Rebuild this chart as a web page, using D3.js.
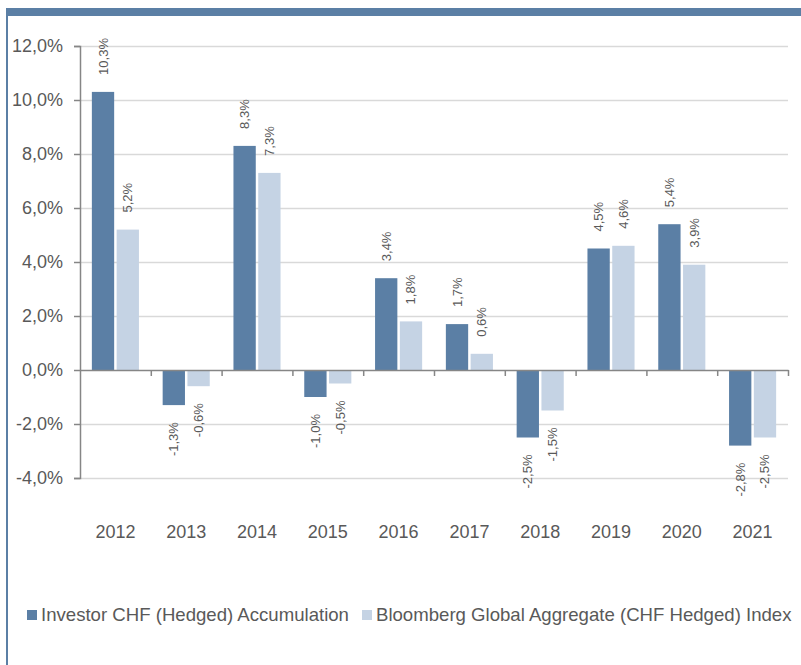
<!DOCTYPE html>
<meta charset="utf-8">
<script src="https://d3js.org/d3.v7.min.js"></script>
<style>
  body { margin: 0; background: #fff; }
  text { font-family: "Liberation Sans", Arial, sans-serif; fill: #595959; }
</style>
<div id="chart"></div>
<script>
// data
var years = ["2012", "2013", "2014", "2015", "2016", "2017", "2018", "2019", "2020", "2021"];
var fundValues = [10.3, -1.3, 8.3, -1.0, 3.4, 1.7, -2.5, 4.5, 5.4, -2.8];
var indexValues = [5.2, -0.6, 7.3, -0.5, 1.8, 0.6, -1.5, 4.6, 3.9, -2.5];
var seriesNames = ["Investor CHF (Hedged) Accumulation", "Bloomberg Global Aggregate (CHF Hedged) Index"];
var yTicks = [-4, -2, 0, 2, 4, 6, 8, 10, 12];

var colors = ["#5b7fa5", "#c5d3e4"];
var width = 801, height = 665;
var plot = {left: 80, right: 788, top: 46, bottom: 478};

var svg = d3.select("#chart").append("svg")
    .attr("width", width)
    .attr("height", height);

// frame: top band + left border
svg.append("rect").attr("x", 6).attr("y", 8).attr("width", width - 6).attr("height", 8).attr("fill", "#5b7fa5");
svg.append("rect").attr("x", 6).attr("y", 8).attr("width", 2).attr("height", height - 8).attr("fill", "#5b7fa5");

var x0 = d3.scaleBand().domain(years).range([plot.left, plot.right])
    .paddingInner(0.335).paddingOuter(0.1675);
var x1 = d3.scaleBand().domain([0, 1]).range([0, x0.bandwidth()]).paddingInner(0.1);
var y = d3.scaleLinear().domain([-4, 12]).range([plot.bottom, plot.top]);

// comma decimals, plain hyphen for minus
var fmt = function(v) { return v.toFixed(1).replace(".", ",") + "%"; };

// gridlines
svg.append("g")
    .attr("transform", "translate(" + plot.left + ",0)")
    .call(d3.axisLeft(y).tickValues(yTicks.filter(d => d !== 0)).tickSize(-(plot.right - plot.left)).tickFormat(""))
    .call(g => g.select(".domain").remove())
    .call(g => g.selectAll("line").attr("stroke", "#d9d9d9").attr("stroke-width", 1.5));

// bars
var rows = years.map((yr, i) => ({year: yr, vals: [fundValues[i], indexValues[i]]}));
var groups = svg.append("g").selectAll("g")
  .data(rows)
  .join("g")
    .attr("transform", d => "translate(" + x0(d.year) + ",0)");

groups.selectAll("rect")
  .data(d => d.vals.map((v, k) => ({k: k, v: v})))
  .join("rect")
    .attr("x", d => x1(d.k))
    .attr("width", x1.bandwidth())
    .attr("y", d => y(Math.max(0, d.v)))
    .attr("height", d => Math.abs(y(d.v) - y(0)))
    .attr("fill", d => colors[d.k]);

// value labels, rotated
groups.selectAll("text")
  .data(d => d.vals.map((v, k) => ({k: k, v: v})))
  .join("text")
    .attr("font-size", 13)
    .attr("text-anchor", d => d.v >= 0 ? "start" : "end")
    .attr("transform", d => {
      var cx = x1(d.k) + x1.bandwidth() / 2 + 4.5;
      var cy = d.v >= 0 ? y(d.v) - 17 : y(d.v) + 17;
      return "translate(" + cx + "," + cy + ") rotate(-90)";
    })
    .text(d => fmt(d.v));

// y axis
svg.append("g")
    .attr("transform", "translate(" + plot.left + ",0)")
    .call(d3.axisLeft(y).tickValues(yTicks).tickSize(6).tickPadding(11).tickFormat(fmt))
    .call(g => g.selectAll("line, .domain").attr("stroke", "#868686").attr("stroke-width", 1.5))
    .call(g => g.selectAll("text").attr("font-size", 18).attr("fill", "#595959").style("font-family", "'Liberation Sans', Arial, sans-serif"));

// x axis line at zero with boundary ticks
var xb = d3.scaleLinear().domain([0, years.length]).range([plot.left, plot.right]);
svg.append("g")
    .attr("transform", "translate(0," + y(0) + ")")
    .call(d3.axisBottom(xb).tickValues(d3.range(1, years.length + 1)).tickSize(6).tickSizeOuter(0).tickFormat(""))
    .call(g => g.selectAll("line, .domain").attr("stroke", "#868686").attr("stroke-width", 1.5));

// category labels
svg.append("g").selectAll("text")
  .data(years)
  .join("text")
    .attr("x", d => x0(d) + x0.bandwidth() / 2)
    .attr("y", 538)
    .attr("text-anchor", "middle")
    .attr("font-size", 18)
    .text(d => d);

// legend
var legendX = [27, 362];
var legend = svg.append("g").selectAll("g")
  .data(seriesNames)
  .join("g")
    .attr("transform", (d, i) => "translate(" + legendX[i] + ",610)");
legend.append("rect").attr("width", 10).attr("height", 10).attr("fill", (d, i) => colors[i]);
legend.append("text").attr("x", 14).attr("y", 11).attr("font-size", 18.6).text(d => d);
</script>
